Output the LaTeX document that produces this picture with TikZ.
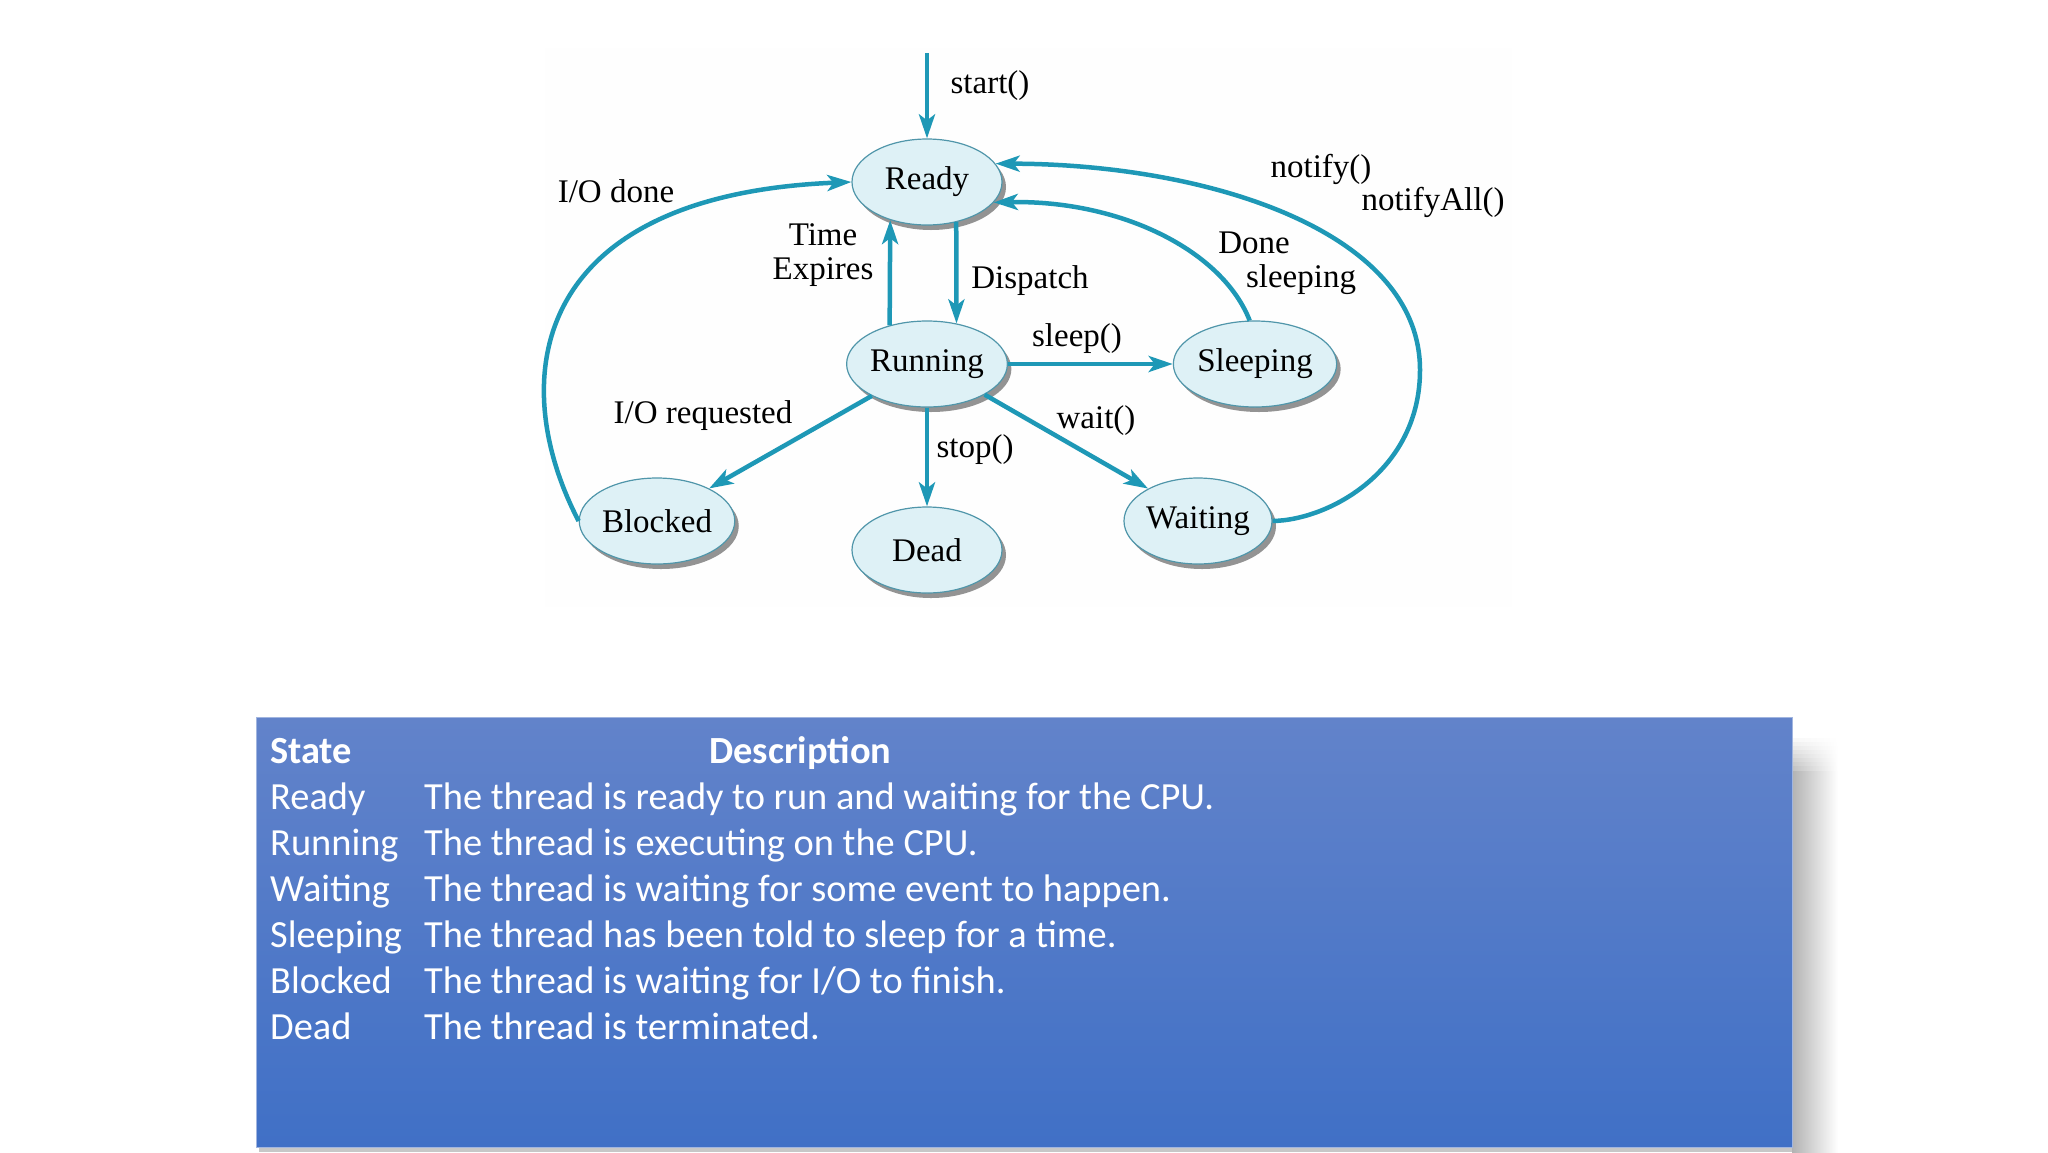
\documentclass[tikz,border=0pt]{standalone}
\usepackage{fontspec}
\setmainfont{Liberation Serif}
\newfontfamily\tablefont{Carlito}
\usetikzlibrary{shapes.geometric,arrows.meta,shadows}

\definecolor{flowcol}{RGB}{30,152,182}
\definecolor{statefill}{RGB}{222,241,246}
\definecolor{stateedge}{RGB}{80,150,170}
\definecolor{tabtop}{RGB}{98,131,202}
\definecolor{tabbot}{RGB}{64,112,198}

\begin{document}
\begin{tikzpicture}[x=1pt, y=-1pt, >={Stealth[length=24pt,width=16pt,inset=6pt]}, font=\fontsize{33}{34}\selectfont]

        % --- STYLES ---
        \tikzstyle{state} = [ellipse, draw=stateedge, line width=1.2pt, fill=statefill, minimum width=150pt, minimum height=86pt, inner sep=0pt, drop shadow={shadow xshift=4pt, shadow yshift=-5pt, fill=black!60, opacity=0.7}]
        \tikzstyle{flow} = [draw=flowcol, line width=4.5pt, ->]
        \tikzstyle{lbl} = [anchor=base, inner sep=0pt]
        \tikzstyle{tabtext} = [anchor=base west, inner sep=0pt, text=white, font=\tablefont\fontsize{38.4}{42}\selectfont]
        \tikzstyle{tabhead} = [tabtext, font=\tablefont\bfseries\fontsize{38.4}{42}\selectfont]

        % --- PAGE ---
        \useasboundingbox (0,0) rectangle (2048,1152);
        \fill[white] (0,0) rectangle (2048,1152);
        \fill[black!0.4] (545,48) rectangle (1512,607);

        % --- STATES ---
        \node[state] (ready) at (927,182) {Ready};
        \node[state] (running) at (927,364) {Running};
        \node[state, minimum width=146pt] (sleeping) at (1255,364) {Sleeping};
        \node[state] (blocked) at (657,521) {Blocked};
        \node[state] (dead) at (927,550) {Dead};
        \node[state, minimum width=148pt] (waiting) at (1198,521) {Waiting};
        \coordinate (entry) at (927,53);

        % --- TRANSITIONS ---
        \draw[flow] (entry) -- (ready.north);
        \draw[flow] (running.134) -- (ready.226);
        \draw[flow] (ready.306) -- (running.54);
        \draw[flow] (running.east) -- (sleeping.west);
        \draw[flow] (running.210) -- (blocked.32);
        \draw[flow] (running.south) -- (dead.north);
        \draw[flow] (running.-28) -- (waiting.147);
        % back to Ready
        \draw[flow] (blocked.west) .. controls (505,380) and (530,195) .. (ready.west);
        \draw[flow] (sleeping.97) .. controls (1222,250) and (1120,200) .. (ready.-17);
        \draw[flow] (waiting.east) .. controls (1330,520) and (1420,470) .. (1420,370)
                    .. controls (1420,230) and (1205,164) .. (ready.15);

        % --- LABELS ---
        \node[lbl] (lstart) at (990,93) {start()};
        \node[lbl] (liodone) at (616,202) {I/O done};
        \node[lbl] (ltime) at (823,245) {Time};
        \node[lbl] (lexpires) at (823,279) {Expires};
        \node[lbl] (ldispatch) at (1030,288) {Dispatch};
        \node[lbl] (lnotify) at (1321,177) {notify()};
        \node[lbl] (lnotifyall) at (1433,210) {notifyAll()};
        \node[lbl] (ldone) at (1254,253) {Done};
        \node[lbl] (lsleeping) at (1301,287) {sleeping};
        \node[lbl] (lsleep) at (1077,346) {sleep()};
        \node[lbl] (liorequest) at (703,423) {I/O requested};
        \node[lbl] (lstop) at (975,457) {stop()};
        \node[lbl] (lwait) at (1096,428) {wait()};

        % --- TABLE ---
        \shade[left color=black!30, right color=white] (1792,770) rectangle (1838,1152);
        \foreach \k [evaluate=\k as \shd using 3*\k] in {0,...,8}
            \shade[left color=black!\shd, right color=white] (1792,734+4*\k) rectangle (1838,738+4*\k);
        \fill[black!22] (259,1147) rectangle (1792,1152);
        \shade[top color=tabtop, bottom color=tabbot] (256,717) rectangle (1792,1147);
        \draw[line width=1pt, color=tabtop!60!white] (256,717) rectangle (1792,1147);

        \node[tabhead] (hstate) at (270,763) {State};
        \node[tabhead] (hdesc) at (709,763) {Description};
        \node[tabtext] (sready) at (270,809) {Ready};
        \node[tabtext] (dready) at (424,809) {The thread is ready to run and waiting for the CPU.};
        \node[tabtext] (srunning) at (270,855) {Running};
        \node[tabtext] (drunning) at (424,855) {The thread is executing on the CPU.};
        \node[tabtext] (swaiting) at (270,901) {Waiting};
        \node[tabtext] (dwaiting) at (424,901) {The thread is waiting for some event to happen.};
        \node[tabtext] (ssleeping) at (270,947) {Sleeping};
        \node[tabtext] (dsleeping) at (424,947) {The thread has been told to sleep for a time.};
        \node[tabtext] (sblocked) at (270,993) {Blocked};
        \node[tabtext] (dblocked) at (424,993) {The thread is waiting for I/O to finish.};
        \node[tabtext] (sdead) at (270,1039) {Dead};
        \node[tabtext] (ddead) at (424,1039) {The thread is terminated.};

\end{tikzpicture}
\end{document}
